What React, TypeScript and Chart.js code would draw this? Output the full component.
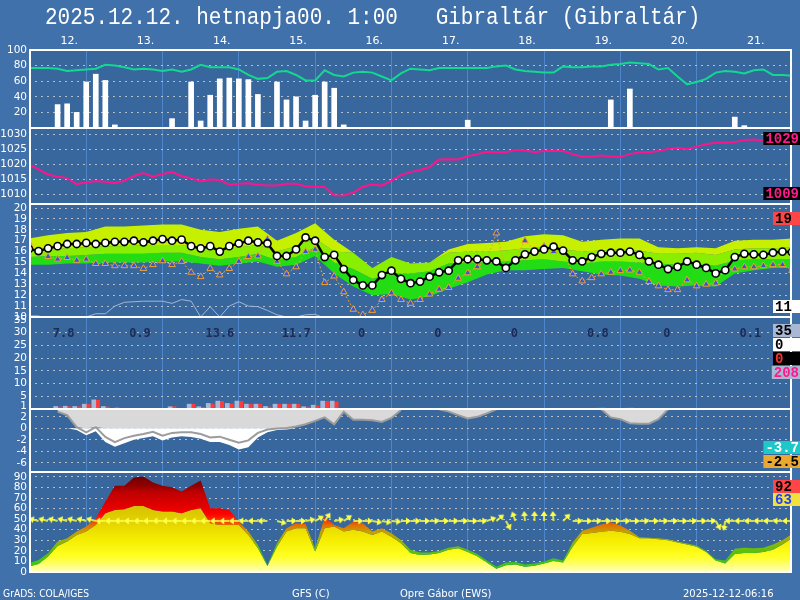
import React, { useEffect, useRef } from 'react';
import { Chart, registerables } from 'chart.js';

// ---------------- DATA ----------------
const TITLE = '2025.12.12. hetnapja00. 1:00   Gibraltár (Gibraltár)';
const dayLabels = ['12.', '13.', '14.', '15.', '16.', '17.', '18.', '19.', '20.', '21.'];
const footerTexts = ['GrADS: COLA/IGES', 'GFS (C)', 'Opre Gábor (EWS)', '2025-12-12-06:16'];
const dailyPrecip = ['7.8', '0.9', '13.6', '11.7', '0', '0', '0', '0.8', '0', '0.1'];
const sideValues = ['1029', '1009', '19', '11', '35', '0', '0', '208', '-3.7', '-2.5', '92', '63'];

const STEP_H = 3; // series every 3 hours
const BAND_STEP_H = 6; // ensemble band every 6 hours

const humidity = [
  77, 77, 77, 76, 73, 74, 75, 76, 81, 80,
  78, 75, 76, 75, 73, 75, 72, 75, 81, 78,
  78, 78, 75, 68, 63, 64, 72, 73, 68, 61,
  61, 74, 68, 66, 71, 72, 71, 66, 61, 70,
  76, 75, 74, 77, 77, 77, 77, 77, 77, 79,
  80, 75, 73, 72, 71, 71, 79, 78, 78, 79,
  79, 81, 82, 84, 83, 82, 75, 77, 66, 56,
  59, 63, 71, 73, 72, 70, 74, 75, 68, 68,
  67,
];
const cloudCover = [
  0, 0, 0, 30, 31, 20, 59, 69, 61, 4,
  0, 0, 0, 0, 0, 12, 0, 59, 9, 42,
  63, 64, 63, 62, 43, 0, 59, 36, 40, 9,
  42, 59, 51, 4, 0, 0, 0, 0, 0, 0,
  0, 0, 0, 0, 0, 0, 10, 0, 0, 0,
  0, 0, 0, 0, 0, 0, 0, 0, 0, 0,
  0, 36, 0, 50, 0, 0, 0, 0, 0, 0,
  0, 0, 0, 0, 14, 3, 0, 0, 0, 0,
  0,
];
const pressure = [
  1020.0, 1018.2, 1016.5, 1015.8, 1015.3, 1013.3, 1013.8, 1014.3, 1014.1, 1013.6,
  1014.4, 1016.0, 1017.0, 1015.8, 1016.7, 1017.3, 1016.0, 1015.2, 1014.3, 1014.8,
  1014.7, 1013.1, 1013.4, 1013.6, 1013.1, 1012.8, 1012.8, 1013.4, 1013.4, 1012.6,
  1012.3, 1012.3, 1009.6, 1009.5, 1010.5, 1012.4, 1013.2, 1012.8, 1014.5, 1016.3,
  1017.3, 1018.0, 1019.0, 1021.5, 1021.6, 1021.5, 1022.6, 1023.3, 1024.1, 1023.9,
  1023.9, 1024.7, 1024.6, 1023.9, 1024.3, 1024.4, 1024.3, 1023.3, 1022.4, 1022.5,
  1022.8, 1022.5, 1022.3, 1023.3, 1023.9, 1023.9, 1024.3, 1025.0, 1025.4, 1024.9,
  1025.8, 1026.6, 1027.1, 1027.1, 1027.3, 1028.0, 1028.2, 1027.8, 1028.5, 1028.9,
  1029.0,
];
const temperature = [
  16.24, 16.05, 16.3, 16.5, 16.7, 16.7, 16.8, 16.7, 16.8, 16.9,
  16.9, 17.0, 16.85, 17.0, 17.15, 17.0, 17.1, 16.5, 16.3, 16.5,
  16.0, 16.5, 16.75, 17.0, 16.85, 16.75, 15.6, 15.6, 16.2, 17.3,
  17.0, 15.5, 15.7, 14.4, 13.4, 12.9, 12.9, 13.85, 14.25, 13.5,
  13.1, 13.25, 13.7, 14.1, 14.25, 15.2, 15.3, 15.3, 15.2, 15.1,
  14.5, 15.2, 15.75, 16.0, 16.2, 16.45, 16.1, 15.2, 15.1, 15.5,
  15.8, 15.9, 15.9, 16.0, 15.7, 15.1, 14.8, 14.4, 14.6, 15.1,
  14.8, 14.5, 14.0, 14.3, 15.5, 15.8, 15.75, 15.7, 15.9, 16.0,
  15.95,
];
const dewPoint = [
  16.8, 16.0, 15.55, 15.3, 15.45, 15.2, 15.3, 14.9, 14.9, 14.7,
  14.7, 14.7, 14.45, 14.8, 15.15, 14.8, 15.1, 14.1, 13.7, 14.45,
  13.85, 14.45, 15.1, 15.55, 15.6, 17.15, 15.1, 13.95, 14.6, 16.0,
  16.2, 13.15, 13.75, 12.3, 10.7, 10.2, 10.6, 11.6, 12.2, 11.6,
  11.25, 11.6, 12.1, 12.55, 12.7, 13.55, 14.05, 14.6, 15.2, 17.7,
  14.4, 15.35, 17.0, 16.1, 16.5, 16.0, 16.1, 13.95, 13.3, 13.6,
  13.95, 14.1, 14.25, 14.3, 14.1, 13.25, 12.85, 12.5, 12.5, 13.4,
  12.85, 13.0, 13.1, 14.4, 14.4, 14.6, 14.6, 14.7, 14.8, 14.8,
  14.25,
];
const lowLevelTemp = [
  10.1, 10.1, 9.8, 9.6, 9.7, 9.9, 10.0, 10.3, 10.3, 11.0,
  11.35, 11.4, 11.45, 11.45, 11.45, 11.25, 11.6, 11.45, 10.0, 10.95,
  10.0, 11.0, 11.4, 11.0, 10.95, 10.6, 10.2, 10.0, 10.0, 10.2,
  10.25, 9.9, 9.6, null, null, null, null, null, null, null,
  null, null, null, null, null, null, null, null, null, null,
  null, null, null, null, null, null, null, null, null, null,
  null, null, null, null, null, null, null, null, null, null,
  null, null, null, null, null, null, null, null, null, null,
  null,
];
// ensemble spread (6-hourly)
const bandTop = [
  17.2, 17.5, 17.7, 17.8, 18.3, 18.3, 18.4, 18.5, 18.5, 18.0,
  17.8, 18.1, 18.3, 17.0, 17.7, 18.6, 17.1, 15.9, 14.5, 15.5,
  14.9, 15.0, 16.2, 16.7, 16.8, 16.9, 17.4, 17.6, 17.5, 16.9,
  17.1, 17.2, 17.2, 16.4, 16.3, 16.4, 16.3, 17.0, 17.1, 17.1,
  17.2,
];
const bandUpper = [
  16.2, 16.2, 16.3, 16.4, 16.5, 16.5, 16.6, 16.6, 16.6, 16.3,
  16.1, 16.4, 16.6, 16.0, 16.5, 17.2, 16.0, 15.9, 14.5, 15.5,
  14.9, 15.0, 15.9, 16.0, 16.0, 16.1, 16.3, 16.4, 16.2, 16.0,
  16.1, 16.2, 16.1, 15.8, 15.8, 15.9, 15.7, 16.2, 16.3, 16.3,
  16.4,
];
const bandLower = [
  15.5, 15.6, 15.6, 15.7, 15.8, 15.8, 15.8, 15.9, 15.9, 15.5,
  15.3, 15.5, 15.8, 15.2, 15.5, 16.4, 15.0, 14.4, 13.5, 14.0,
  14.0, 14.2, 14.9, 15.0, 15.0, 15.1, 15.2, 15.3, 15.1, 14.9,
  15.1, 15.1, 15.0, 14.9, 14.8, 14.9, 14.7, 15.2, 15.3, 15.3,
  15.3,
];
const bandBottom = [
  14.8, 14.8, 14.9, 14.9, 15.0, 15.0, 15.0, 15.1, 15.1, 14.9,
  14.7, 14.9, 15.1, 14.6, 14.8, 15.6, 14.0, 12.8, 12.0, 12.1,
  11.6, 11.9, 12.6, 13.2, 13.9, 14.3, 14.3, 14.4, 14.5, 14.2,
  13.9, 13.8, 13.5, 12.9, 12.8, 12.9, 12.8, 14.0, 14.3, 14.5,
  14.5,
];
const precipTotal = [
  0, 0, 0, 1.0, 1.1, 1.0, 1.9, 3.6, 1.0, 0,
  0, 0, 0, 0, 0, 0.9, 0, 1.9, 0.9, 2.2,
  3.1, 2.2, 3.1, 1.9, 1.9, 1.0, 1.9, 1.9, 1.9, 0.9,
  1.5, 3.1, 3.1, 0, 0, 0, 0, 0, 0, 0,
  0, 0, 0, 0, 0, 0, 0, 0, 0, 0,
  0, 0, 0, 0, 0, 0, 0, 0, 0, 0,
  0.3, 0, 0, 0.3, 0, 0, 0, 0, 0, 0,
  0, 0, 0, 0, 0, 0, 0, 0, 0, 0,
  0,
];
const precipRain = [
  0, 0, 0, 0.8, 0.9, 0.9, 1.9, 3.4, 0.8, 0.7,
  0, 0, 0, 0, 0, 0.9, 0, 1.9, 0.7, 2.0,
  3.0, 2.0, 3.0, 1.9, 1.9, 0.8, 1.9, 1.9, 1.9, 0.8,
  1.3, 3.0, 2.8, 0, 0, 0, 0, 0, 0, 0,
  0, 0, 0, 0, 0, 0, 0, 0, 0, 0,
  0, 0, 0, 0, 0, 0, 0, 0, 0, 0,
  0.5, 0, 0, 0.5, 0, 0, 0, 0, 0, 0,
  0, 0, 0, 0, 0, 0, 0, 0, 0, 0,
  0,
];
const lowerLine = [
  null, null, null, 2.9, 2.3, 0.2, -0.7, 0.2, -1.5, -2.4,
  -1.7, -1.3, -1.0, -0.6, -1.3, -0.8, -0.7, -0.7, -1.0, -1.6,
  -1.45, -2.0, -2.5, -2.1, -0.8, -0.2, -0.05, 0.05, 0.3, 0.7,
  1.3, 1.9, 0.7, 2.9, 1.5, 1.5, 1.4, 1.1, 1.8, 3.2,
  null, null, null, 3.3, 2.9, 2.3, 1.7, 2.0, 2.6, 3.3,
  null, null, null, null, null, null, null, null, null, null,
  3.3, 1.9, 1.6, 0.9, 0.8, 0.8, 1.6, 3.3, null, null,
  null, null, null, null, null, null, null, null, null, null,
  null,
];
const lowerEdge = [
  null, null, null, 2.9, 2.0, -0.3, -1.2, -0.5, -2.4, -3.2,
  -2.6, -2.0, -1.7, -1.4, -2.1, -1.6, -1.4, -1.5, -1.8, -2.4,
  -2.4, -2.9, -3.7, -3.3, -1.6, -0.7, -0.3, -0.2, 0.1, 0.4,
  1.0, 1.7, 0.4, 2.7, 1.2, 1.2, 1.1, 0.8, 1.5, 3.0,
  null, null, null, 3.3, 2.8, 2.1, 1.5, 1.8, 2.4, 3.3,
  null, null, null, null, null, null, null, null, null, null,
  3.3, 1.7, 1.4, 0.7, 0.6, 0.6, 1.4, 3.3, null, null,
  null, null, null, null, null, null, null, null, null, null,
  null,
];
const windSpeed = [
  5.1, 7.6, 14.6, 24.7, 28.8, 35.1, 38.3, 44.6, 55.6, 58.8,
  59.4, 62.6, 62.6, 58.8, 57.2, 57.2, 55.6, 58.8, 60.4, 46.2,
  44.6, 44.6, 44.6, 35.1, 22.5, 5.7, 24, 38.3, 41.4, 41.4,
  19.3, 41.4, 43, 38.3, 39.9, 38.3, 35.1, 38.3, 33.5, 27.2,
  18, 16, 16.5, 18, 21, 22.5, 19, 15, 9, 3,
  6.5, 7, 5, 6, 8, 10.5, 9, 24, 36, 37,
  38, 39, 38, 36, 32, 32, 31, 30, 28, 26,
  24, 19, 11, 8, 17, 18, 18, 19, 21, 26,
  32,
];
const windGust = [
  8.3, 11.4, 17.7, 28.8, 32, 38.3, 43, 50.9, 66.5, 81.6,
  81.6, 89.5, 90.5, 84.7, 81.6, 80.3, 76.2, 81.6, 86.6, 60.4,
  60.4, 58.8, 47.7, 38.3, 25.6, 6.7, 27.2, 41.4, 46.2, 45.5,
  22.5, 51.9, 44.6, 41.4, 47.7, 46.2, 38.3, 41.4, 36.7, 30.4,
  21, 18.5, 18.5, 20, 23, 24.5, 21, 17, 11, 5,
  9, 9.5, 7, 8, 10, 13, 11, 28, 39, 42,
  45, 47, 44, 39, 33, 32.5, 32, 31, 29, 27,
  25, 20, 12, 11, 22, 23, 22.5, 23, 26, 30,
  36,
];
// direction the arrow points to, degrees counter-clockwise from east
const windArrowDir = [
  165, 165, 165, 165, 165, 165, 165, 165, 180, 180,
  180, 180, 180, 180, 180, 180, 180, 180, 180, 180,
  180, 180, 180, 180, 180, 180, -15, 0, 0, 10,
  30, 55, 10, 35, 0, 0, -10, -10, -5, 0,
  0, 0, 0, 0, 0, 0, 0, 0, 20, 40,
  -60, 110, 95, 90, 90, 95, 45, 0, 0, 0,
  0, 0, 0, 0, 0, 0, 0, 0, 0, 0,
  0, 0, -60, -100, 180, 180, 180, 180, 180, 180,
  180,
];

// ---------------- STYLE / LAYOUT ----------------
const OUTER_BG = '#4171aa';
const PLOT_BG = '#37679d';
const GRID_COLOR = 'rgba(205,205,205,0.85)';
const DAY_LINE = '#4f86cb';
const TICK_FONT = { family: '"DejaVu Sans", sans-serif', size: 10.5 };
const ARROW_LEVEL = 48.3;
const PRECIP_LABEL_LEVEL = 30;
const PANEL_IDS = ['yHum', 'yPres', 'yTemp', 'yPrec', 'ySnow', 'yWind'];
const FOOTER_POS = [
  { x: 3, w: 86 },
  { x: 292, w: 44 },
  { x: 400, w: 106 },
  { x: 683, w: 97 },
];
const SIDE_STYLE = [
  { y: 132, bg: '#000000', fg: '#ff1a8c' },
  { y: 187, bg: '#000000', fg: '#ff1a8c' },
  { y: 212, bg: '#ff4646', fg: '#000000' },
  { y: 300, bg: '#ffffff', fg: '#000000' },
  { y: 324, bg: '#a8b8d4', fg: '#000000' },
  { y: 338, bg: '#ffffff', fg: '#000000' },
  { y: 352, bg: '#000000', fg: '#ff3030' },
  { y: 366, bg: '#a8b8d4', fg: '#ff1a8c' },
  { y: 441, bg: '#1ec8c8', fg: '#ffffff' },
  { y: 455, bg: '#e8a832', fg: '#000000' },
  { y: 480, bg: '#ff4646', fg: '#000000' },
  { y: 493, bg: '#f0e040', fg: '#2040ff' },
];
const SPEED_STOPS: [number, string][] = [
  [0, '#ffffc4'], [6, '#ffff7a'], [15, '#ffff22'], [30, '#f6ee00'], [45, '#e6d600'], [62, '#d6c200'],
];
const GUST_STOPS: [number, string][] = [
  [0, '#2ec818'], [20, '#5cc010'], [30, '#a0b000'], [38, '#c8a000'], [44, '#e07400'], [49, '#ff3000'],
  [55, '#ff0000'], [62, '#e40000'], [75, '#c00000'], [82, '#900000'], [94, '#640000'],
];

// ---------------- PLUGINS ----------------
const panelClip = {
  id: 'panelClip',
  beforeDatasetDraw(chart: any, args: any) {
    const ys = args.meta.yScale;
    const ca = chart.chartArea;
    const ctx = chart.ctx;
    ctx.save();
    ctx.beginPath();
    ctx.rect(ca.left, ys.top, ca.right - ca.left, ys.bottom - ys.top);
    ctx.clip();
  },
  afterDatasetDraw(chart: any) {
    chart.ctx.restore();
  },
};
Chart.register(panelClip, ...registerables);

const decor = {
  id: 'decor',
  beforeDraw(chart: any) {
    const { ctx, chartArea: ca } = chart;
    ctx.save();
    ctx.fillStyle = OUTER_BG;
    ctx.fillRect(0, 0, chart.width, chart.height);
    ctx.fillStyle = PLOT_BG;
    ctx.fillRect(ca.left, ca.top, ca.right - ca.left, ca.bottom - ca.top);
    ctx.restore();
  },
  afterDraw(chart: any) {
    const { ctx, chartArea: ca, scales } = chart;
    ctx.save();
    // panel frames
    ctx.fillStyle = '#ffffff';
    for (const id of PANEL_IDS) {
      const s = scales[id];
      ctx.fillRect(ca.left, Math.round(s.top) - 1, ca.right - ca.left, 2);
    }
    ctx.fillRect(ca.left, Math.round(scales.yWind.bottom) - 1, ca.right - ca.left, 2);
    ctx.fillRect(ca.left, ca.top - 1, 2, ca.bottom - ca.top + 2);
    ctx.fillRect(ca.right - 2, ca.top - 1, 2, ca.bottom - ca.top + 2);

    // title
    ctx.fillStyle = '#ffffff';
    ctx.textAlign = 'left';
    ctx.textBaseline = 'alphabetic';
    ctx.font = '21px "Liberation Mono", monospace';
    ctx.save();
    ctx.translate(45, 24);
    ctx.scale(1, 1.12);
    ctx.fillText(TITLE, 0, 0);
    ctx.restore();

    // footer
    ctx.font = '10px "DejaVu Sans", sans-serif';
    footerTexts.forEach((t, i) => ctx.fillText(t, FOOTER_POS[i].x, 597, FOOTER_POS[i].w));

    // daily precipitation sums
    ctx.fillStyle = '#1b2b58';
    ctx.font = 'bold 12px "DejaVu Sans Mono", monospace';
    ctx.textBaseline = 'middle';
    const yTxt = scales.yPrec.getPixelForValue(PRECIP_LABEL_LEVEL) + 1;
    dailyPrecip.forEach((t, k) => {
      ctx.fillText(t, scales.x.getPixelForValue(k * 24 + 7.5), yTxt);
    });

    // side value boxes
    ctx.font = 'bold 14px "Liberation Mono", monospace';
    sideValues.forEach((t, i) => {
      const st = SIDE_STYLE[i];
      const w = Math.max(27, ctx.measureText(t).width + 3);
      const x = chart.width - w;
      ctx.fillStyle = st.bg;
      ctx.fillRect(x, st.y, w, 13);
      ctx.fillStyle = st.fg;
      ctx.fillText(t, x + 2, st.y + 7);
    });
    ctx.restore();
  },
};

// ---------------- HELPERS ----------------
const series = (arr: (number | null)[]) => arr.map((v, i) => ({ x: i * STEP_H, y: v }));
const bandSeries = (arr: number[]) => arr.map((v, k) => ({ x: k * BAND_STEP_H, y: v }));

function vGradient(chart: any, id: string, stops: [number, string][], fallback: string) {
  const s = chart.scales && chart.scales[id];
  if (!s || !chart.chartArea || s.top === undefined) return fallback;
  const y0 = s.getPixelForValue(s.min);
  const y1 = s.getPixelForValue(s.max);
  if (!isFinite(y0) || !isFinite(y1) || y0 === y1) return fallback;
  const g = chart.ctx.createLinearGradient(0, y0, 0, y1);
  const span = s.max - s.min;
  for (const [v, c] of stops) g.addColorStop(Math.min(1, Math.max(0, (v - s.min) / span)), c);
  return g;
}

function yScale(min: number, max: number, ticks: number[], grid: number[], weight: number, stackWeight: number) {
  return {
    type: 'linear',
    position: 'left',
    stack: 'panels',
    stackWeight,
    weight,
    min,
    max,
    offset: false,
    afterBuildTicks: (s: any) => {
      s.ticks = ticks.map((v) => ({ value: v }));
    },
    afterFit: (s: any) => {
      s.width = 29;
    },
    grid: {
      color: (c: any) => (c.tick && grid.includes(c.tick.value) ? GRID_COLOR : 'rgba(0,0,0,0)'),
      lineWidth: 1,
      drawTicks: false,
    },
    border: { display: false, dash: [2, 4] },
    ticks: {
      color: '#ffffff',
      font: TICK_FONT,
      padding: 2,
      autoSkip: false,
      callback: (v: any) => String(v),
    },
  };
}

function makeArrow() {
  const c = document.createElement('canvas');
  c.width = 24;
  c.height = 24;
  const g = c.getContext('2d')!;
  g.strokeStyle = '#ffff48';
  g.fillStyle = '#ffff48';
  g.lineWidth = 1.6;
  g.beginPath();
  g.moveTo(12, 12);
  g.lineTo(19, 12);
  g.stroke();
  g.beginPath();
  g.moveTo(22, 12);
  g.lineTo(17, 8.5);
  g.lineTo(17, 15.5);
  g.closePath();
  g.fill();
  return c;
}

function buildConfig(arrow: HTMLCanvasElement): any {
  const hourTicks = dayLabels.flatMap((_, k) => [k * 24, k * 24 + 12]).concat([240]);
  const noPts = { pointRadius: 0, pointHoverRadius: 0 };
  const datasets: any[] = [
    // panel 1: humidity + cloud
    { type: 'line', yAxisID: 'yHum', data: series(humidity), borderColor: '#12d890', borderWidth: 2, ...noPts, order: 0 },
    { type: 'bar', yAxisID: 'yHum', data: series(cloudCover), backgroundColor: '#ffffff', barThickness: 5, grouped: false, order: 1 },
    // panel 2: pressure
    { type: 'line', yAxisID: 'yPres', data: series(pressure), borderColor: '#ff148c', borderWidth: 2, ...noPts },
    // panel 3: ensemble bands
    { type: 'line', yAxisID: 'yTemp', data: bandSeries(bandTop), fill: '+1', backgroundColor: '#c6f000', borderWidth: 0, ...noPts, order: 10 },
    { type: 'line', yAxisID: 'yTemp', data: bandSeries(bandUpper), fill: '+1', backgroundColor: '#8aee00', borderWidth: 0, ...noPts, order: 11 },
    { type: 'line', yAxisID: 'yTemp', data: bandSeries(bandLower), fill: '+1', backgroundColor: '#22dd14', borderWidth: 0, ...noPts, order: 12 },
    { type: 'line', yAxisID: 'yTemp', data: bandSeries(bandBottom), fill: false, borderWidth: 0, ...noPts, order: 13 },
    { type: 'line', yAxisID: 'yTemp', data: series(lowLevelTemp), borderColor: '#a2b6d6', borderWidth: 1, ...noPts, order: 5 },
    {
      type: 'line', yAxisID: 'yTemp', data: series(dewPoint), borderColor: '#f0a030', borderWidth: 1, borderDash: [2, 2],
      pointStyle: 'triangle', pointRadius: 3.8, pointBackgroundColor: '#3355dd', pointBorderColor: '#f0a030', pointBorderWidth: 1, order: 4,
    },
    {
      type: 'line', yAxisID: 'yTemp', data: series(temperature), borderColor: '#000000', borderWidth: 2.5,
      pointRadius: 3.6, pointBackgroundColor: '#ffffff', pointBorderColor: '#000000', pointBorderWidth: 1.6, order: 3,
    },
    // panel 4: precipitation bars
    { type: 'bar', yAxisID: 'yPrec', data: series(precipTotal), backgroundColor: '#a8b8d8', barThickness: 4 },
    { type: 'bar', yAxisID: 'yPrec', data: series(precipRain), backgroundColor: '#ff3a3a', barThickness: 4 },
    // panel 5
    {
      type: 'line', yAxisID: 'ySnow', data: series(lowerLine.map((v) => (v === null ? null : Math.max(v, 0)))),
      fill: 'end', backgroundColor: '#d9d9d9', borderWidth: 0, ...noPts, order: 22,
    },
    {
      type: 'line', yAxisID: 'ySnow', data: series(lowerEdge.map((v) => (v === null ? null : Math.min(v, 0)))),
      fill: { target: { value: 0 } }, backgroundColor: '#ffffff', borderWidth: 0, ...noPts, order: 21,
    },
    { type: 'line', yAxisID: 'ySnow', data: series(lowerLine), borderColor: '#9c9c9c', borderWidth: 2, ...noPts, order: 20 },
    // panel 6: wind
    {
      type: 'line', yAxisID: 'yWind', data: series(windGust), fill: '+1', borderWidth: 0, ...noPts, order: 32,
      backgroundColor: (c: any) => vGradient(c.chart, 'yWind', GUST_STOPS, '#ff0000'),
    },
    {
      type: 'line', yAxisID: 'yWind', data: series(windSpeed), fill: 'origin', borderWidth: 0, ...noPts, order: 33,
      backgroundColor: (c: any) => vGradient(c.chart, 'yWind', SPEED_STOPS, '#ffff00'),
    },
    {
      type: 'line', yAxisID: 'yWind', showLine: false, order: 30,
      data: windArrowDir.map((_, i) => ({ x: i * STEP_H, y: ARROW_LEVEL })),
      pointStyle: arrow, pointRadius: 6, pointHoverRadius: 6,
      pointRotation: windArrowDir.map((d) => -d),
    },
  ];

  return {
    type: 'line',
    data: { datasets },
    options: {
      animation: false,
      responsive: false,
      devicePixelRatio: 1,
      events: [],
      spanGaps: false,
      layout: { padding: { top: 0, left: 0, right: 8, bottom: 28 } },
      plugins: { legend: { display: false }, tooltip: { enabled: false }, title: { display: false } },
      scales: {
        x: {
          type: 'linear',
          position: 'top',
          min: 0,
          max: 240,
          offset: false,
          stacked: false,
          z: 1,
          afterBuildTicks: (s: any) => {
            s.ticks = hourTicks.map((v) => ({ value: v }));
          },
          afterFit: (s: any) => {
            s.height = 50;
          },
          grid: {
            color: (c: any) => {
              const v = c.tick && c.tick.value;
              return v !== undefined && v % 24 === 0 && v > 0 && v < 240 ? DAY_LINE : 'rgba(0,0,0,0)';
            },
            lineWidth: 1,
            drawTicks: false,
          },
          border: { display: false },
          ticks: {
            color: '#ffffff',
            font: { family: '"DejaVu Sans", sans-serif', size: 11 },
            padding: 2,
            labelOffset: 2,
            autoSkip: false,
            maxRotation: 0,
            callback: (v: any) => (v % 24 === 12 ? dayLabels[(v - 12) / 24] || '' : ''),
          },
        },
        yHum: yScale(0, 100, [20, 40, 60, 80, 100], [20, 40, 60, 80], 6, 78),
        yPres: yScale(1006.67, 1032, [1010, 1015, 1020, 1025, 1030], [1010, 1015, 1020, 1025, 1030], 5, 76),
        yTemp: yScale(10, 20.37, [10, 11, 12, 13, 14, 15, 16, 17, 18, 19, 20], [11, 12, 13, 14, 15, 16, 17, 18, 19, 20], 4, 113),
        yPrec: yScale(0, 36.1, [1, 5, 10, 15, 20, 25, 30, 35], [5, 10, 15, 20, 25, 30], 3, 92),
        ySnow: yScale(-7.6, 3.36, [-6, -4, -2, 0, 2], [-6, -4, -2, 0, 2], 2, 63),
        yWind: yScale(0, 94.7, [0, 10, 20, 30, 40, 50, 60, 70, 80, 90], [10, 20, 30, 40, 50, 60, 70, 80, 90], 1, 100),
      },
    },
    plugins: [decor],
  };
}

export default function App() {
  const ref = useRef<HTMLCanvasElement | null>(null);
  useEffect(() => {
    if (!ref.current) return;
    const chart = new Chart(ref.current, buildConfig(makeArrow()));
    return () => chart.destroy();
  }, []);
  return (
    <div style={{ position: 'absolute', left: 0, top: 0, width: 800, height: 600 }}>
      <canvas ref={ref} width={800} height={600} style={{ display: 'block', width: 800, height: 600 }} />
    </div>
  );
}
